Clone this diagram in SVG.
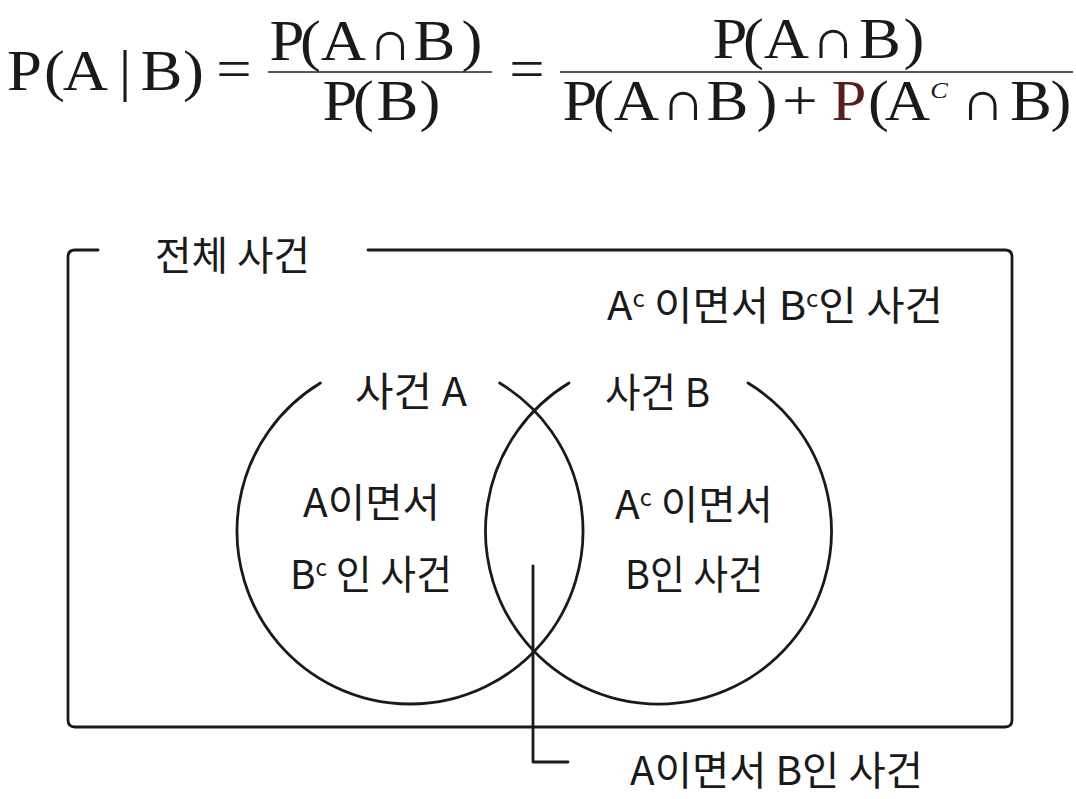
<svg xmlns="http://www.w3.org/2000/svg" width="1076" height="799" viewBox="0 0 1076 799">
<style>
.f{font-family:"Liberation Serif","DejaVu Serif",serif;font-size:57px;fill:#1a1a1a;text-anchor:middle}
.cap{font-size:56px}
.k{font-family:"Noto Sans CJK KR","Noto Sans",sans-serif;font-size:40px;fill:#1a1a1a}
.ln{fill:none;stroke:#1a1a1a;stroke-width:2.8;stroke-linecap:round;stroke-linejoin:round}
.bar{stroke:#5a5560;stroke-width:2}
</style>
<rect width="1076" height="799" fill="#ffffff"/>
<g id="formula">
<line class="bar" x1="268" y1="72" x2="492" y2="72"/>
<line class="bar" x1="560" y1="72" x2="1073" y2="72"/>
<g transform="scale(1.1 1)">
<text class="f" x="22.27 49.55 77.73 113.64 146.82 175.91" y="90">P(A|B)</text>
<text class="f" x="212.73" y="88">=</text>
<text class="f" x="260.91 282.27 312.27" y="60">P(A</text>
<text class="f cap" x="354.55" y="60">∩</text>
<text class="f" x="395 429.09" y="60">B)</text>
<text class="f" x="309.09 330.45 361.36 390.91" y="120">P(B)</text>
<text class="f" x="479.09" y="88">=</text>
<text class="f" x="663.64 685 715" y="58">P(A</text>
<text class="f cap" x="757.27" y="58">∩</text>
<text class="f" x="800 830.91" y="58">B)</text>
<text class="f" x="527.27 548.64 578.64" y="120">P(A</text>
<text class="f cap" x="620.91" y="120">∩</text>
<text class="f" x="661.36 697.27" y="120">B)</text>
<text class="f" x="727.27" y="120">+</text>
<text class="f" x="771.82" y="120" style="fill:#5a1c1c">P</text>
<text class="f" x="798.64 825" y="120">(A</text>
<text class="f" x="853.64" y="98" style="font-size:24px;font-style:italic">C</text>
<text class="f cap" x="893.18" y="120">∩</text>
<text class="f" x="937.27 964.55" y="120">B)</text>
</g>
</g>
<g id="universe">
<path class="ln" d="M98 250 H75 Q68 250 68 257 V720 Q68 727 75 727 H1005 Q1012 727 1012 720 V257 Q1012 250 1005 250 H368"/>
<text class="k" x="155" y="270" textLength="155" lengthAdjust="spacingAndGlyphs">전체 사건</text>
</g>
<g id="outside-label">
<text class="k" x="607" y="320" textLength="336" lengthAdjust="spacingAndGlyphs">A<tspan font-size="23" dy="-13">c</tspan><tspan dy="13"> 이면서 B</tspan><tspan font-size="23" dy="-13">c</tspan><tspan dy="13">인 사건</tspan></text>
</g>
<g id="circleA">
<path class="ln" d="M320.4 383 A173 173 0 1 0 499.6 383"/>
<text class="k" x="355" y="406" textLength="112" lengthAdjust="spacingAndGlyphs">사건 A</text>
<text class="k" x="303" y="517" textLength="137" lengthAdjust="spacingAndGlyphs">A이면서</text>
<text class="k" x="290" y="589" textLength="162" lengthAdjust="spacingAndGlyphs">B<tspan font-size="23" dy="-13">c</tspan><tspan dy="13"> 인 사건</tspan></text>
</g>
<g id="circleB">
<path class="ln" d="M569 383 A173 173 0 1 0 748 383"/>
<text class="k" x="605" y="407" textLength="105" lengthAdjust="spacingAndGlyphs">사건 B</text>
<text class="k" x="615" y="519" textLength="158" lengthAdjust="spacingAndGlyphs">A<tspan font-size="23" dy="-13">c</tspan><tspan dy="13"> 이면서</tspan></text>
<text class="k" x="625" y="589" textLength="138" lengthAdjust="spacingAndGlyphs">B인 사건</text>
</g>
<g id="connectors">
<path class="ln" d="M533 566 V762 H568"/>
</g>
<g id="intersection-label">
<text class="k" x="630" y="785" textLength="293" lengthAdjust="spacingAndGlyphs">A이면서 B인 사건</text>
</g>
</svg>
